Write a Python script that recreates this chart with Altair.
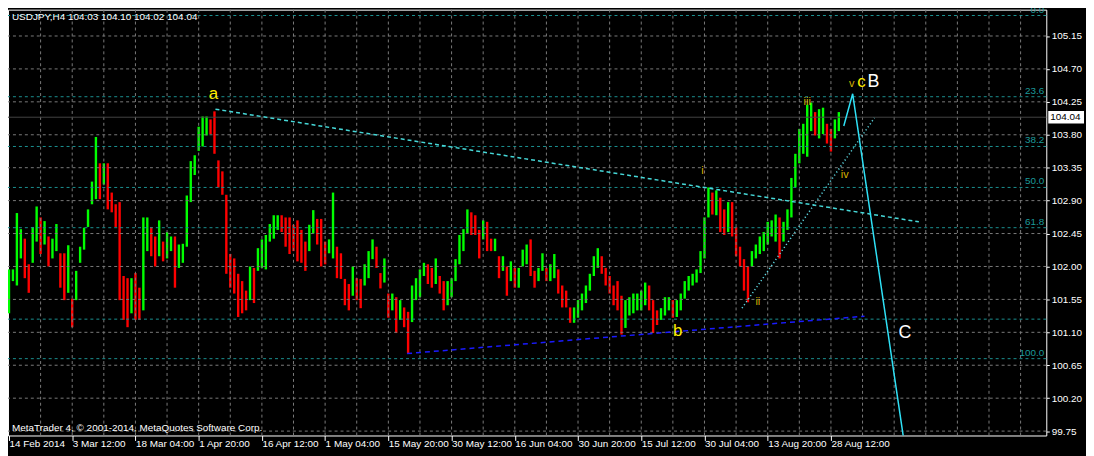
import altair as alt
import pandas as pd

# ---- bar data (one bar per 4-px column of the reference, highs/lows in JPY) ----
highs = [
    101.96, 101.96, 102.73, 102.51, 102.38, 102.03, 102.54, 102.82, 102.67, 102.62,
    102.41, 102.38, 102.58, 102.18, 102.18, 102.29, 101.56, 101.94, 102.27, 102.53,
    102.78, 103.16, 103.77, 103.41, 103.41, 103.41, 103.01, 102.85, 102.88, 101.87,
    101.84, 101.84, 101.91, 101.71, 102.67, 102.67, 102.54, 102.41, 102.63, 102.34,
    102.47, 102.41, 102.41, 102.30, 102.31, 102.97, 103.44, 103.52, 103.91, 104.05,
    104.05, 104.01, 104.12, 103.45, 103.30, 102.98, 102.17, 102.11, 101.90, 101.80,
    101.67, 102.00, 101.98, 102.25, 102.37, 102.43, 102.58, 102.70, 102.70, 102.70,
    102.67, 102.67,
    102.57, 102.63, 102.50, 102.34, 102.57, 102.77, 102.65, 102.65,
    102.34, 102.37, 103.01, 102.27, 102.18, 101.83, 101.76, 102.00, 101.84, 101.83,
    102.03, 102.21, 102.37, 102.27, 101.91, 102.11, 101.63, 101.63, 101.58, 101.54,
    101.44, 101.38, 101.74, 101.84, 101.96, 102.05, 102.03, 101.98, 102.11, 101.87,
    101.80, 101.80, 101.84, 102.10, 102.43, 102.51, 102.78, 102.74, 102.70, 102.50,
    102.63, 102.61, 102.38, 102.38, 102.14, 102.14, 102.00, 102.07, 101.98, 101.98,
    102.23, 102.30, 102.37, 101.94, 101.98, 102.18, 101.98, 102.03, 102.17, 101.96,
    101.74, 101.67, 101.44, 101.44, 101.54,
    101.63, 101.74, 101.90, 102.14, 102.25,
    102.14, 101.98, 101.87, 101.74, 101.80, 101.60, 101.54, 101.58, 101.63, 101.63,
    101.67, 101.78, 101.74, 101.54, 101.40, 101.43, 101.58, 101.58, 101.54, 101.54,
    101.63, 101.80, 101.87, 101.90, 101.96, 102.21, 102.67, 103.08, 103.01, 103.04,
    102.94, 102.78, 102.88, 102.88, 102.54, 102.27, 102.10, 102.00, 102.21, 102.30,
    102.41, 102.47, 102.61, 102.63, 102.71, 102.67, 102.61, 102.78, 103.21, 103.54,
    103.88, 103.95, 104.21, 104.24, 104.11, 104.15, 104.17, 103.95, 103.88, 104.01,
    104.11,
]
lows = [
    101.36, 101.80, 101.74, 102.11, 101.84, 101.64, 102.05, 102.34, 102.17, 102.30,
    102.00, 102.11, 102.21, 101.71, 101.54, 101.64, 101.17, 101.54, 102.05, 102.23,
    102.54, 102.85, 102.92, 102.92, 103.12, 102.78, 102.74, 102.54, 101.54, 101.27,
    101.17, 101.36, 101.27, 101.27, 101.40, 102.21, 102.14, 102.00, 102.14, 102.07,
    102.11, 102.21, 101.71, 101.98, 102.05, 102.27, 102.88, 103.25, 103.58, 103.64,
    103.79, 103.81, 103.54, 103.08, 102.98, 101.90, 101.71, 101.63, 101.31, 101.36,
    101.40, 101.54, 101.50, 101.94, 101.98, 101.96, 102.34, 102.38, 102.50, 102.47,
    102.27, 102.17,
    102.21, 102.07, 102.05, 101.94, 102.21, 102.45, 102.30, 102.00,
    102.03, 102.18, 102.11, 101.84, 101.83, 101.47, 101.40, 101.60, 101.54, 101.43,
    101.74, 101.84, 102.10, 101.98, 101.70, 101.78, 101.30, 101.40, 101.09, 101.27,
    101.17, 100.81, 101.24, 101.54, 101.58, 101.87, 101.76, 101.71, 101.76, 101.63,
    101.40, 101.47, 101.58, 101.80, 102.03, 102.21, 102.45, 102.43, 102.43, 102.11,
    102.37, 102.21, 102.21, 102.21, 101.84, 101.94, 101.60, 101.80, 101.71, 101.71,
    102.00, 102.03, 101.87, 101.71, 101.80, 101.94, 101.80, 101.80, 101.84, 101.63,
    101.44, 101.44, 101.23, 101.23, 101.30,
    101.40, 101.50, 101.67, 101.87, 101.98,
    101.90, 101.74, 101.63, 101.47, 101.40, 101.07, 101.16, 101.33, 101.36, 101.40,
    101.40, 101.47, 101.40, 101.09, 101.20, 101.27, 101.33, 101.40, 101.30, 101.31,
    101.40, 101.56, 101.67, 101.74, 101.78, 101.91, 102.11, 102.67, 102.71, 102.70,
    102.47, 102.43, 102.47, 102.41, 102.14, 102.00, 101.67, 101.51, 102.00, 102.11,
    102.17, 102.21, 102.30, 102.41, 102.34, 102.11, 102.34, 102.50, 102.67, 103.08,
    103.41, 103.54, 103.50, 103.85, 103.79, 103.75, 103.81, 103.68, 103.57, 103.75,
    103.85,
]

x_labels = ["14 Feb 2014", "3 Mar 12:00", "18 Mar 04:00", "1 Apr 20:00", "16 Apr 12:00",
            "1 May 04:00", "15 May 20:00", "30 May 12:00", "16 Jun 04:00", "30 Jun 20:00",
            "15 Jul 12:00", "30 Jul 04:00", "13 Aug 20:00", "28 Aug 12:00"]
y_ticks = [99.75, 100.20, 100.65, 101.10, 101.55, 102.00, 102.45, 102.90,
           103.35, 103.80, 104.25, 104.70, 105.15]
fib_names = ["0.0", "23.6", "38.2", "50.0", "61.8", "100.0"]
fib_prices = [105.43, 104.32, 103.64, 103.08, 102.53, 100.74]
support_prices = [101.28]
bid_price = 104.04
header_text = "USDJPY,H4  104.03 104.10 104.02 104.04"
footer_text = "MetaTrader 4, \u00a9 2001-2014, MetaQuotes Software Corp."

line_a_i = [52.25, 230.25]
line_a_p = [104.15, 102.61]
line_b_i = [100.75, 216.5]
line_b_p = [100.81, 101.32]
line_w_i = [185.5, 219.0]
line_w_p = [101.43, 104.03]
proj_i = [211.25, 213.5, 226.8]
proj_p = [103.92, 104.36, 99.50]

big_txt = ["a", "b", "c"]
big_i = [51.75, 169.25, 215.75]
big_p = [104.35, 101.12, 104.52]
small_txt = ["i", "ii", "iii", "iv", "v"]
small_i = [175.5, 189.5, 202.0, 211.5, 213.25]
small_p = [103.30, 101.52, 104.25, 103.25, 104.49]
white_txt = ["B", "C"]
white_i = [218.75, 226.75]
white_p = [104.52, 101.09]

# ---- layout ----
W, H = 1046, 429
FONT = "Liberation Sans"
GRID = "#7a7a7a"
xsc = alt.Scale(domain=[-0.25, 262.5], nice=False, zero=False)
ysc = alt.Scale(domain=[99.69, 105.51], nice=False, zero=False)
grid_idx = list(range(0, 264, 8))

n = min(len(highs), len(lows))
mids = [(highs[k] + lows[k]) / 2 for k in range(n)]
bars = pd.DataFrame({
    "i": list(range(n)),
    "hi": highs[:n],
    "lo": lows[:n],
    "c": ["#00ff00" if (k == 0 or mids[k] >= mids[k - 1]) else "#ff0000" for k in range(n)],
})

lab_arr = "[" + ",".join("'" + s + "'" for s in x_labels) + "]"
test16 = f"datum.value % 16 == 0 && datum.value / 16 < {len(x_labels)}"

x_axis = alt.Axis(
    values=grid_idx, orient="bottom", grid=False,
    domain=False, tickColor="white", tickSize=5,
    tickOpacity={"condition": {"test": test16, "value": 1}, "value": 0},
    labelExpr=f"{test16} ? {lab_arr}[datum.value / 16] : ''",
    labelAlign="left", labelBaseline="top", labelPadding=-2, labelOverlap=False,
    labelBound=False, labelColor="white", labelFont=FONT, labelFontSize=10, title=None,
)
y_axis = alt.Axis(
    values=y_ticks, orient="right", grid=False,
    domain=False, tickColor="white", tickSize=3, labelPadding=2, format=".2f",
    labelColor="white", labelFont=FONT, labelFontSize=10, title=None, labelOverlap=False,
)

XQ = alt.X("i:Q", scale=xsc, axis=x_axis)


def YQ(field):
    return alt.Y(field, scale=ysc, axis=y_axis)


# explicit dashed grid, drawn as rules at the axis positions
vgrid = alt.Chart(pd.DataFrame({"g": grid_idx[1:]})).mark_rule(
    color=GRID, strokeDash=[3, 3], strokeWidth=1, opacity=1
).encode(x=alt.X("g:Q", scale=xsc, axis=x_axis))
hgrid = alt.Chart(pd.DataFrame({"g": y_ticks})).mark_rule(
    color=GRID, strokeDash=[3, 3], strokeWidth=1, opacity=1
).encode(y=YQ("g:Q"))

candles = alt.Chart(bars).mark_rule(strokeWidth=2.4).encode(
    x=XQ,
    y=YQ("lo:Q"),
    y2="hi:Q",
    color=alt.Color("c:N", scale=None),
)

fib_df = pd.DataFrame({"p": fib_prices, "name": fib_names})
fib_lines = alt.Chart(pd.DataFrame({"p": fib_prices + support_prices})).mark_rule(
    color="#1b9090", strokeDash=[3, 3], strokeWidth=1
).encode(y=YQ("p:Q"))
fib_labels = alt.Chart(fib_df).mark_text(
    align="right", baseline="bottom", dy=-1, dx=-2, color="#1b9a9a", font=FONT, fontSize=10
).encode(x=alt.value(W), y=YQ("p:Q"), text="name:N")

bid_line = alt.Chart(pd.DataFrame({"p": [bid_price]})).mark_rule(
    color="#444444", strokeWidth=1
).encode(y=YQ("p:Q"))


def seg(ii, pp, **kw):
    return alt.Chart(pd.DataFrame({"i": ii, "p": pp})).mark_line(clip=True, **kw).encode(
        x=XQ, y=YQ("p:Q")
    )


l_a = seg(line_a_i, line_a_p, color="#46d8d8", strokeDash=[4, 3], strokeWidth=1.5)
l_b = seg(line_b_i, line_b_p, color="#1a1aff", strokeDash=[5, 4], strokeWidth=1.5)
l_w = seg(line_w_i, line_w_p, color="#5cd6e0", strokeDash=[1.2, 2.5], strokeWidth=1.5)
l_proj = seg(proj_i, proj_p, color="#2fe0f5", strokeWidth=1.5)


def labels(txt, ii, pp, color, size):
    return alt.Chart(pd.DataFrame({"t": txt, "i": ii, "p": pp})).mark_text(
        align="center", baseline="middle", color=color, font=FONT, fontSize=size
    ).encode(x=XQ, y=YQ("p:Q"), text="t:N")


t_big = labels(big_txt, big_i, big_p, "#ffee00", 17)
t_small = labels(small_txt, small_i, small_p, "#d8b400", 11)
t_white = labels(white_txt, white_i, white_p, "#ffffff", 18)

header = alt.Chart(pd.DataFrame({"t": [header_text]})).mark_text(
    align="left", baseline="middle", color="white", font=FONT, fontSize=10
).encode(x=alt.value(4), y=alt.value(7), text="t:N")
footer = alt.Chart(pd.DataFrame({"t": [footer_text]})).mark_text(
    align="left", baseline="middle", color="white", font=FONT, fontSize=10
).encode(x=alt.value(4), y=alt.value(H - 8), text="t:N")

tag_df = pd.DataFrame({"p": [bid_price], "t": [f"{bid_price:.2f}"]})
tag_box = alt.Chart(tag_df).mark_rect(color="white", clip=False).transform_calculate(
    top="datum.p + 0.085", bot="datum.p - 0.085"
).encode(
    x=alt.value(W + 2), x2=alt.value(W + 38),
    y=YQ("top:Q"), y2="bot:Q",
)
tag_txt = alt.Chart(tag_df).mark_text(
    align="left", baseline="middle", color="black", font=FONT, fontSize=10, clip=False
).encode(x=alt.value(W + 4), y=YQ("p:Q"), text="t:N")

chart = alt.layer(
    candles, vgrid, hgrid, fib_lines, fib_labels, bid_line, l_a, l_b, l_w, l_proj,
    t_big, t_small, t_white, header, footer, tag_box, tag_txt,
).properties(
    width=W, height=H,
    padding={"left": 0, "top": 0, "right": 40, "bottom": 19},
    autosize=alt.AutoSizeParams(type="none"),
).configure(background="black").configure_view(stroke="white", strokeWidth=1)

chart.save("out.html", embed_options={"renderer": "svg", "actions": False})
